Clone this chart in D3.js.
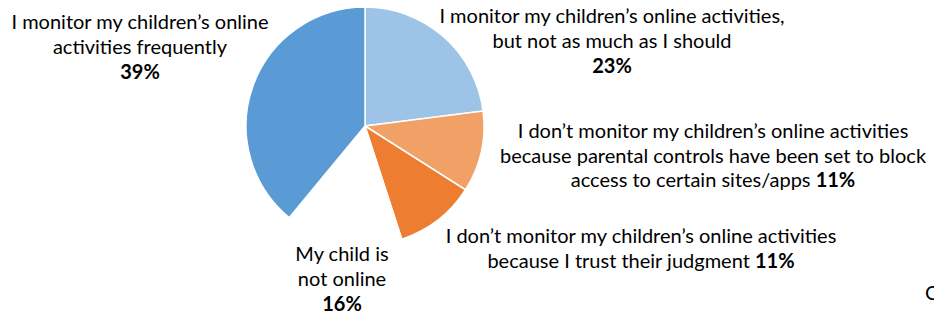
<!DOCTYPE html>
<html>
<head>
<meta charset="utf-8">
<script src="https://cdnjs.cloudflare.com/ajax/libs/d3/7.8.5/d3.min.js"></script>
<style>
    body { margin: 0; background: #fff; }
    svg text { font-family: Lato, "Open Sans", sans-serif; fill: #000; }
</style>
</head>
<body>
<div id="chart"></div>
<script>

// slices, clockwise from 12 o'clock
var categories = [
    "I monitor my children’s online activities, but not as much as I should",
    "I don’t monitor my children’s online activities because parental controls have been set to block access to certain sites/apps",
    "I don’t monitor my children’s online activities because I trust their judgment",
    "My child is not online",
    "I monitor my children’s online activities frequently"
];
var values = [23, 11, 11, 16, 39];
var colors = ["#9DC3E6", "#F1A066", "#ED7D31", "#FFFFFF", "#5B9BD5"];

// label lines as they break in the picture (second item of a line is the bold percentage)
var labelLines = [
    [["I monitor my children’s online activities,"], ["but not as much as I should"], [null, "23%"]],
    [["I don’t monitor my children’s online activities"], ["because parental controls have been set to block"], ["access to certain sites/apps ", "11%"]],
    [["I don’t monitor my children’s online activities"], ["because I trust their judgment ", "11%"]],
    [["My child is"], ["not online"], [null, "16%"]],
    [["I monitor my children’s online"], ["activities frequently"], [null, "39%"]]
];

var width = 934, height = 315;
var cx = 365, cy = 126, radius = 119;

// label anchor (centre x, first baseline y)
var labelPos = [
    {x: 612, y: 23},
    {x: 713, y: 138},
    {x: 641, y: 243},
    {x: 342, y: 261},
    {x: 140, y: 29}
];
var lineH = 24.5;

var svg = d3.select("#chart")
    .append("svg")
    .attr("width", width)
    .attr("height", height);

var pie = d3.pie().sort(null).value(function(d){ return d; });
var arc = d3.arc().innerRadius(0).outerRadius(radius);

var g = svg.append("g")
    .attr("transform", "translate(" + cx + "," + cy + ")");

g.selectAll("path")
    .data(pie(values))
    .enter().append("path")
    .attr("d", arc)
    .style("fill", function(d, i){ return colors[i]; })
    .style("stroke", "#fff")
    .style("stroke-width", 1.5);

var labels = svg.selectAll(".label")
    .data(labelLines)
    .enter().append("text")
    .attr("class", "label")
    .attr("text-anchor", "middle")
    .style("font-size", "20px");

labels.each(function(lines, i){
    var t = d3.select(this);
    lines.forEach(function(line, j){
        var extra = line[0] ? 0 : 1;
        var ts = t.append("tspan")
            .attr("x", labelPos[i].x)
            .attr("y", labelPos[i].y + j * lineH + extra);
        if (line[0]) ts.append("tspan").text(line[0]);
        if (line[1]) ts.append("tspan").style("font-weight", "bold").text(line[1]);
    });
});

// cut-off text at the right edge of the source image
svg.append("text")
    .attr("x", 925)
    .attr("y", 300)
    .style("font-size", "20px")
    .text("C");

</script>
</body>
</html>
